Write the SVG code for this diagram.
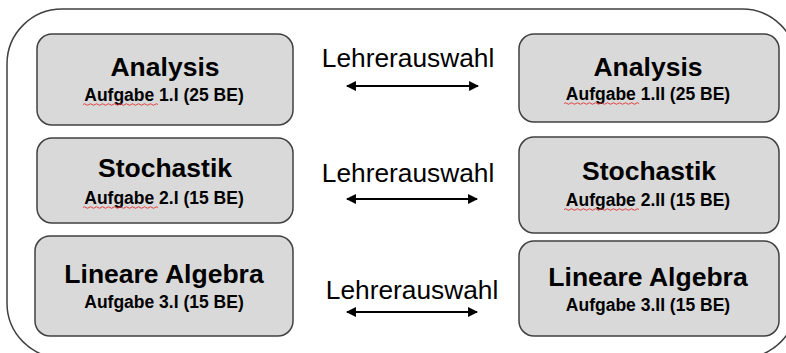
<svg xmlns="http://www.w3.org/2000/svg" width="786" height="353" viewBox="0 0 786 353">
<defs>
<style>
.box{fill:#d9d9d9;stroke:#404040;stroke-width:1.5}
.t{font-family:"Liberation Sans",Arial,sans-serif;font-weight:bold;fill:#000;text-anchor:middle}
.h{font-size:26.5px}
.s{font-size:17.5px}
.lbl{font-family:"Liberation Sans",Arial,sans-serif;font-size:26.3px;fill:#000;text-anchor:middle}
.arr{stroke:#000;stroke-width:2.2;fill:none;marker-start:url(#ah);marker-end:url(#ah)}
.wavy{fill:none;stroke:#e03030;stroke-width:0.9}
</style>
<marker id="ah" viewBox="0 0 10 10" refX="9" refY="5" markerWidth="5" markerHeight="4.5" orient="auto-start-reverse" markerUnits="strokeWidth">
<path d="M0,0 L10,5 L0,10 z" fill="#000"/>
</marker>
</defs>
<rect x="0" y="0" width="786" height="353" fill="#fff"/>
<rect x="7" y="9" width="790" height="349" rx="55" ry="55" fill="none" stroke="#404040" stroke-width="1.5"/>

<g id="connectors">
<g id="c1"><text class="lbl" x="408" y="67">Lehrerauswahl</text><line class="arr" x1="347" y1="86" x2="478" y2="86"/></g>
<g id="c2"><text class="lbl" x="408" y="182">Lehrerauswahl</text><line class="arr" x1="347" y1="199" x2="477" y2="199"/></g>
<g id="c3"><text class="lbl" x="412" y="299">Lehrerauswahl</text><line class="arr" x1="347" y1="312" x2="477" y2="312"/></g>
</g>

<g id="a1l">
<rect class="box" x="37" y="34" width="256" height="91" rx="15"/>
<text class="t h" x="165" y="76">Analysis</text>
<text class="t s" x="164" y="101">Aufgabe 1.I (25 BE)</text>
<path class="wavy" d="M83,104.5 q1.5,-1.5 3,0 t3,0 t3,0 t3,0 t3,0 t3,0 t3,0 t3,0 t3,0 t3,0 t3,0 t3,0 t3,0 t3,0 t3,0 t3,0 t3,0 t3,0 t3,0 t3,0 t3,0 t3,0 t3,0 t3,0 t3,0"/>
</g>
<g id="a1r">
<rect class="box" x="519" y="34" width="260" height="88" rx="15"/>
<text class="t h" x="648" y="76">Analysis</text>
<text class="t s" x="648" y="100">Aufgabe 1.II (25 BE)</text>
<path class="wavy" d="M564,103.5 q1.5,-1.5 3,0 t3,0 t3,0 t3,0 t3,0 t3,0 t3,0 t3,0 t3,0 t3,0 t3,0 t3,0 t3,0 t3,0 t3,0 t3,0 t3,0 t3,0 t3,0 t3,0 t3,0 t3,0 t3,0 t3,0 t3,0"/>
</g>
<g id="a2l">
<rect class="box" x="37" y="138" width="256" height="85" rx="15"/>
<text class="t h" x="165" y="177">Stochastik</text>
<text class="t s" x="164" y="204">Aufgabe 2.I (15 BE)</text>
<path class="wavy" d="M83,207.5 q1.5,-1.5 3,0 t3,0 t3,0 t3,0 t3,0 t3,0 t3,0 t3,0 t3,0 t3,0 t3,0 t3,0 t3,0 t3,0 t3,0 t3,0 t3,0 t3,0 t3,0 t3,0 t3,0 t3,0 t3,0 t3,0 t3,0"/>
</g>
<g id="a2r">
<rect class="box" x="519" y="137" width="260" height="96" rx="15"/>
<text class="t h" x="649" y="180">Stochastik</text>
<text class="t s" x="648" y="206">Aufgabe 2.II (15 BE)</text>
<path class="wavy" d="M564,209.5 q1.5,-1.5 3,0 t3,0 t3,0 t3,0 t3,0 t3,0 t3,0 t3,0 t3,0 t3,0 t3,0 t3,0 t3,0 t3,0 t3,0 t3,0 t3,0 t3,0 t3,0 t3,0 t3,0 t3,0 t3,0 t3,0 t3,0"/>
</g>
<g id="a3l">
<rect class="box" x="35" y="236" width="258" height="100" rx="15"/>
<text class="t h" x="164" y="283">Lineare Algebra</text>
<text class="t s" x="164" y="308">Aufgabe 3.I (15 BE)</text>
</g>
<g id="a3r">
<rect class="box" x="519" y="241" width="260" height="95" rx="15"/>
<text class="t h" x="648" y="286">Lineare Algebra</text>
<text class="t s" x="648" y="311">Aufgabe 3.II (15 BE)</text>
</g>
</svg>
